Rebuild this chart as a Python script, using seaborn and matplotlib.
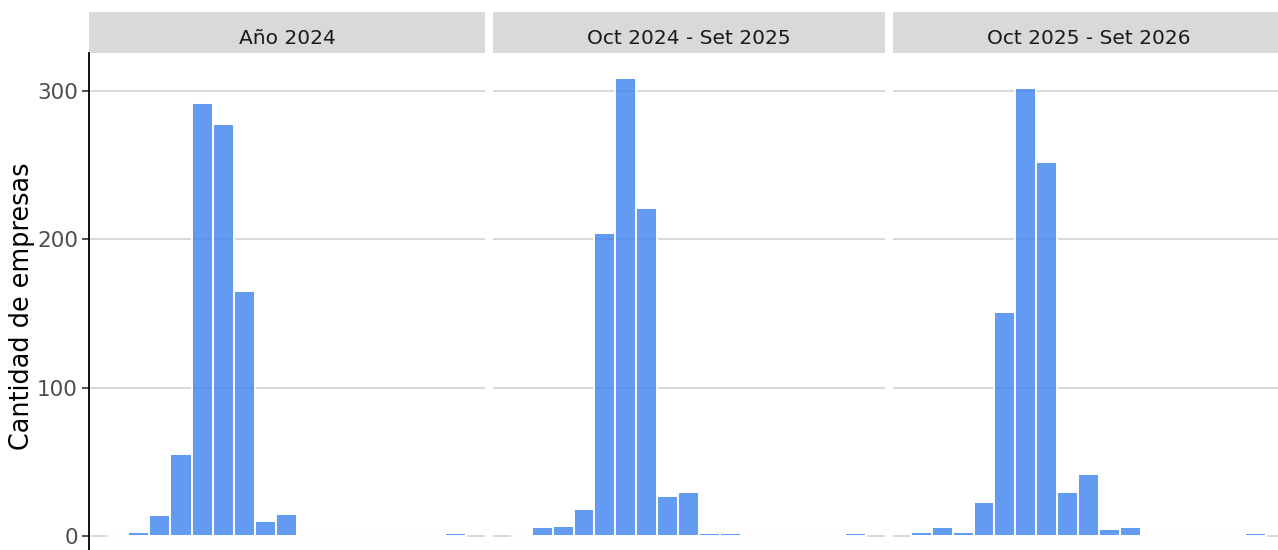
import numpy as np
import pandas as pd
import seaborn as sns
import matplotlib.pyplot as plt
from matplotlib.patches import Rectangle

# Datos (conteo de empresas por tramo)
periodos = ["Año 2024", "Oct 2024 - Set 2025", "Oct 2025 - Set 2026"]
tramos = list(range(17))
conteo_2024 = [0, 3, 14, 55, 292, 278, 165, 10, 15, 0, 0, 0, 0, 0, 0, 0, 2]
conteo_2025 = [0, 6, 7, 18, 204, 309, 221, 27, 30, 2, 2, 0, 0, 0, 0, 0, 2]
conteo_2026 = [3, 6, 3, 23, 151, 302, 252, 30, 42, 5, 6, 0, 0, 0, 0, 0, 2]

df = pd.DataFrame({
    "periodo": np.repeat(periodos, len(tramos)),
    "tramo": tramos * 3,
    "empresas": conteo_2024 + conteo_2025 + conteo_2026,
})

sns.set_theme(style="white")
plt.rcParams["font.family"] = ["DejaVu Sans"]

W, H = 1278, 550
fig = plt.figure(figsize=(W / 100, H / 100), dpi=100)

top = 52.7
paneles = [(89, 396), (493, 392), (893, 392)]
strip_h = 52.7 - 12
alto_ax = H - top

for i, (periodo, (x0, w)) in enumerate(zip(periodos, paneles)):
    ax = fig.add_axes([x0 / W, 0, w / W, alto_ax / H])
    sub = df[df["periodo"] == periodo]
    sns.histplot(data=sub, x="tramo", weights="empresas", discrete=True,
                 color="#3c82f0", alpha=0.8, edgecolor="white", linewidth=1.4,
                 ax=ax)
    ax.set_xlim(-1.36, 17.41)
    ax.set_ylim(-9.4, 325.9)
    ax.set_yticks([0, 100, 200, 300])
    ax.grid(axis="y", color="#d3d3d3", linewidth=1.2)
    ax.set_axisbelow(True)
    ax.set_xticks([])
    ax.set_xlabel("")
    for s in ["top", "right", "bottom"]:
        ax.spines[s].set_visible(False)
    if i == 0:
        ax.spines["left"].set_color("black")
        ax.spines["left"].set_linewidth(1.3)
        ax.tick_params(axis="y", left=True, length=5, width=1.2,
                       color="#333333", labelsize=15.5, labelcolor="#4d4d4d", pad=3)
        ax.set_ylabel("Cantidad de empresas", fontsize=18.4, color="black", labelpad=0)
        ax.yaxis.set_label_coords(-54 / w, (H - 306) / alto_ax)
    else:
        ax.spines["left"].set_visible(False)
        ax.set_yticklabels([])
        ax.tick_params(axis="y", left=False)
        ax.set_ylabel("")

    # Cabecera de faceta
    hfrac = strip_h / alto_ax
    ax.add_patch(Rectangle((0, 1), 1, hfrac, transform=ax.transAxes,
                           facecolor="#d9d9d9", edgecolor="none", clip_on=False))
    ax.text(0.5, 1 + (top - 38.5) / alto_ax, periodo, transform=ax.transAxes,
            ha="center", va="center", fontsize=14.5, color="#1a1a1a")

fig.savefig("out.png", dpi=100)
